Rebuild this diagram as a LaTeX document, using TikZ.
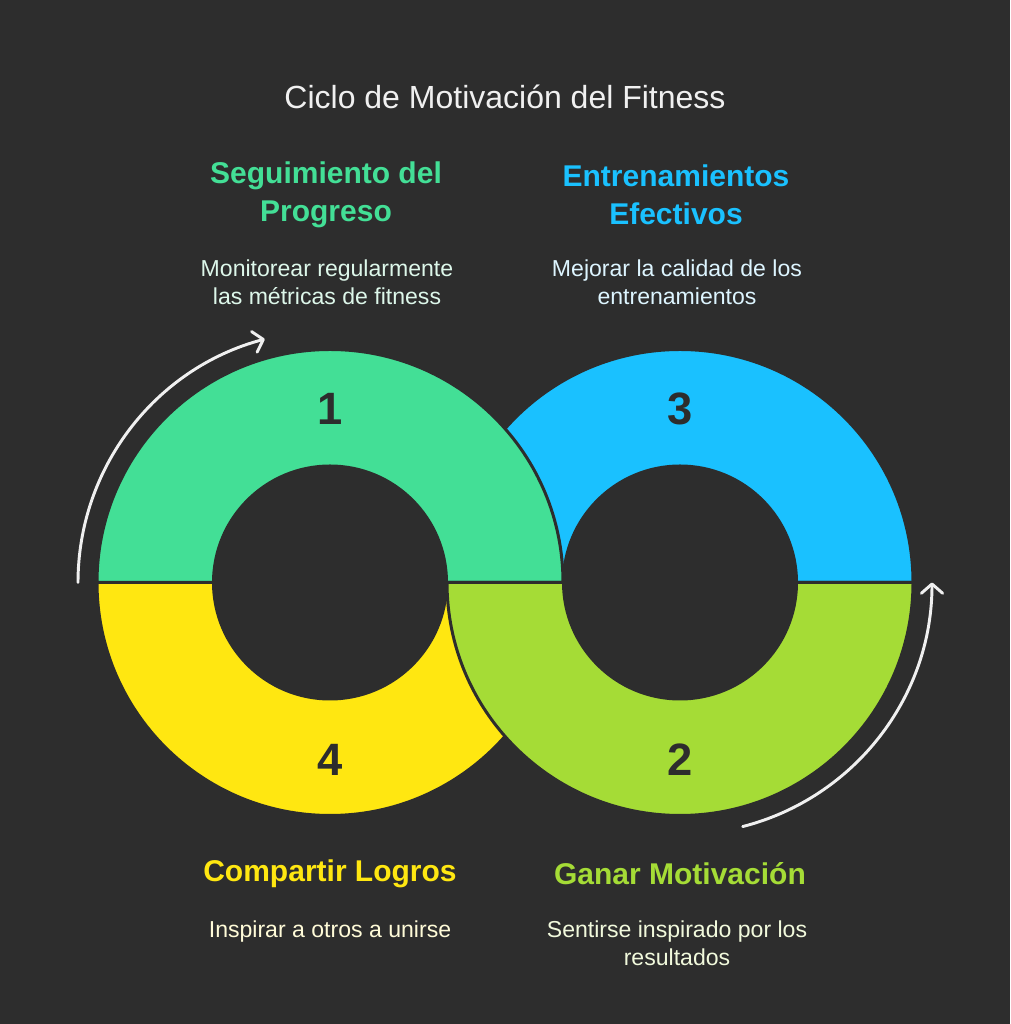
\documentclass[tikz,border=0pt]{standalone}
\usepackage{fontspec}
\setmainfont{Liberation Sans}
\usetikzlibrary{arrows.meta}
\definecolor{bgdark}{HTML}{2D2D2D}
\definecolor{cmint}{HTML}{43DF96}
\definecolor{csky}{HTML}{1AC1FF}
\definecolor{clime}{HTML}{A5DC36}
\definecolor{cyellow}{HTML}{FFE711}
\definecolor{tmint}{HTML}{DDF7EA}
\definecolor{tsky}{HTML}{DDF5FF}
\definecolor{tlime}{HTML}{F1F9DC}
\definecolor{tyellow}{HTML}{FFFBD8}
\tikzset{
    ringpart/.style={draw=bgdark, line width=2.25pt},
    headtext/.style={align=center, inner sep=0pt, font=\bfseries\fontsize{22.5}{28.5}\selectfont},
    bodytext/.style={align=center, inner sep=0pt, font=\fontsize{17.3}{21}\selectfont},
    numtext/.style={inner sep=0pt, text=bgdark, font=\bfseries\fontsize{34}{40}\selectfont},
    cyclearrow/.style={draw=white!94!black, line width=2.2pt, line cap=round,
        -{Straight Barb[length=7pt, width=16pt, line width=2.2pt, round]}},
}

\begin{document}
\begin{tikzpicture}[x=.75pt, y=.75pt]
    \useasboundingbox[fill=bgdark] (0,0) rectangle (1010,1024);
    \coordinate (leftc) at (330,441.5);
    \coordinate (rightc) at (680,441.5);

    \draw[ringpart, fill=csky] ([shift={(180:233)}]rightc) arc (180:0:233) -- ([shift={(0:116.5)}]rightc) arc (0:180:116.5) -- cycle;
    \draw[ringpart, fill=cyellow] ([shift={(180:233)}]leftc) arc (180:360:233) -- ([shift={(0:116.5)}]leftc) arc (360:180:116.5) -- cycle;
    \draw[ringpart, fill=cmint] ([shift={(180:233)}]leftc) arc (180:0:233) -- ([shift={(0:116.5)}]leftc) arc (0:180:116.5) -- cycle;
    \draw[ringpart, fill=clime] ([shift={(180:233)}]rightc) arc (180:360:233) -- ([shift={(0:116.5)}]rightc) arc (360:180:116.5) -- cycle;

    \node[numtext] (num1) at (330,615) {1};
    \node[numtext] (num3) at (680,615) {3};
    \node[numtext] (num4) at (330,264) {4};
    \node[numtext] (num2) at (680,264) {2};

    \coordinate (arrowa) at ([shift={(180:252)}]leftc);
    \coordinate (arrowb) at ([shift={(-75.6:252)}]rightc);
    \draw[cyclearrow] (arrowa) arc (180:105:252);
    \draw[cyclearrow] (arrowb) arc (-75.6:0:252);

    \node[inner sep=0pt, text=white!94!black, font=\fontsize{24}{29}\selectfont] (title) at (505,927) {Ciclo de Motivación del Fitness};

    \node[headtext, text=cmint] (head1) at (326,829) {Seguimiento del\\Progreso};
    \node[bodytext, text=tmint] (body1) at (327,742) {Monitorear regularmente\\las métricas de fitness};
    \node[headtext, text=csky] (head3) at (676,829) {Entrenamientos\\Efectivos};
    \node[bodytext, text=tsky] (body3) at (677,742) {Mejorar la calidad de los\\entrenamientos};
    \node[headtext, text=cyellow] (head4) at (330,150) {Compartir Logros};
    \node[bodytext, text=tyellow] (body4) at (330,92) {Inspirar a otros a unirse};
    \node[headtext, text=clime] (head2) at (680,150) {Ganar Motivación};
    \node[bodytext, text=tlime] (body2) at (677,81) {Sentirse inspirado por los\\resultados};
\end{tikzpicture}
\end{document}
